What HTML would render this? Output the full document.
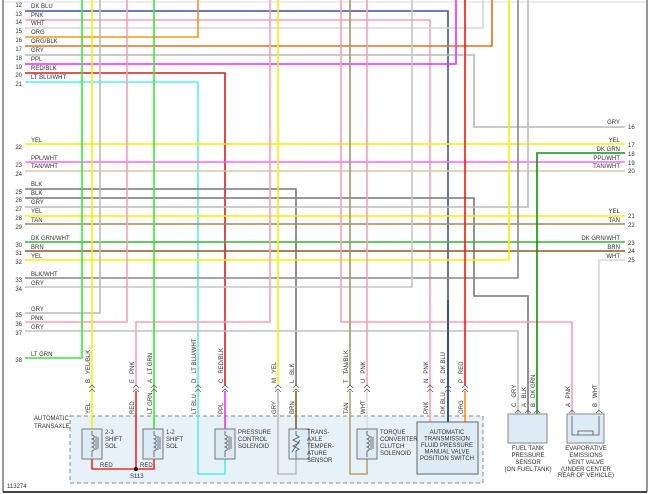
<!DOCTYPE html>
<html><head><meta charset="utf-8"><style>
html,body{margin:0;padding:0;background:#fff;}
svg{display:block;font-family:"Liberation Sans",sans-serif;}
text{font-size:6px;fill:#333;white-space:pre;}
</style></head><body>
<svg width="650" height="494" viewBox="0 0 650 494" xmlns="http://www.w3.org/2000/svg">
<rect x="0" y="0" width="650" height="494" fill="#fff"/>
<line x1="3" y1="2" x2="647" y2="2" stroke="#ddd" stroke-width="1"/>
<line x1="3" y1="0" x2="3" y2="492" stroke="#555" stroke-width="1.2"/>
<line x1="647" y1="0" x2="647" y2="492" stroke="#555" stroke-width="1.2"/>
<line x1="3" y1="492" x2="647" y2="492" stroke="#444" stroke-width="2"/>
<rect x="70" y="416" width="413" height="67" fill="#e7f1f8" stroke="#888" stroke-width="1" stroke-dasharray="4,3"/>
<g fill="none" stroke-width="1.6">
<path d="M25,11H448V422" stroke="#3a52ac"/>
<path d="M25,20H430V422" stroke="#ff9db5"/>
<path d="M25,28H483V0" stroke="#d6d6d6"/>
<path d="M25,37H198V0" stroke="#f7941d"/>
<path d="M25,46H492V0" stroke="#e0701e"/>
<path d="M25,55H474V127H625" stroke="#b8b8b8"/>
<path d="M25,64H456V0" stroke="#ff22ff"/>
<path d="M25,73H225V386" stroke="#cc2222"/>
<path d="M225,391V429" stroke="#ee33ee"/>
<path d="M25,82H198V474H225V459" stroke="#55eef0"/>
<path d="M25,144H625" stroke="#f6f000"/>
<path d="M25,162H625" stroke="#ff66ff"/>
<path d="M25,171H625" stroke="#d6c8a6"/>
<path d="M25,189H296V386" stroke="#777"/>
<path d="M296,391V429" stroke="#8a5a18"/>
<path d="M25,198H474V296H528V414" stroke="#777"/>
<path d="M25,207H528V0" stroke="#bbb"/>
<path d="M25,216H625" stroke="#f6f000"/>
<path d="M25,224H625" stroke="#a48a52"/>
<path d="M25,242H625" stroke="#3cb43c"/>
<path d="M25,251H625" stroke="#8b5a1a"/>
<path d="M25,260H509V0" stroke="#f6f000"/>
<path d="M25,278H518V0" stroke="#888"/>
<path d="M25,287H412V0" stroke="#c6c6c6"/>
<path d="M25,313H100V0" stroke="#bbb"/>
<path d="M25,322H127V0" stroke="#ff9db5"/>
<path d="M270,0V322H136V386" stroke="#ff9db5"/>
<path d="M136,391V469" stroke="#ff2222"/>
<path d="M341,0V322H572V414" stroke="#ff9db5"/>
<path d="M25,331H518V414" stroke="#c0c0c0"/>
<path d="M25,358H82V0" stroke="#33ee33"/>
<path d="M625,153H537V414" stroke="#109010"/>
<path d="M625,260H599V414" stroke="#d8d8d8"/>
<path d="M92,0V429" stroke="#f6f000"/>
<path d="M154,0V429" stroke="#33ee33"/>
<path d="M278,0V386" stroke="#f6f000"/>
<path d="M278,391V474H296V459" stroke="#bbb"/>
<path d="M350,0V386" stroke="#a09a60"/>
<path d="M350,391V474H367V459" stroke="#b8a070"/>
<path d="M367,0V386" stroke="#ff9db5"/>
<path d="M367,391V429" stroke="#ddd"/>
<path d="M465,0V386" stroke="#ff1010"/>
<path d="M465,391V422" stroke="#ff8c1a"/>
<path d="M448,300V422" stroke="#1a3ab0"/>
<path d="M92,459V469H154V459" stroke="#ff2222"/>
</g>
<circle cx="136" cy="469" r="2" fill="#000"/>
<g fill="none" stroke="#666" stroke-width="0.8">
<path d="M89,388l3,-3l3,3M89,392l3,-3l3,3M133,388l3,-3l3,3M133,392l3,-3l3,3M151,388l3,-3l3,3M151,392l3,-3l3,3M195,388l3,-3l3,3M195,392l3,-3l3,3M222,388l3,-3l3,3M222,392l3,-3l3,3M275,388l3,-3l3,3M275,392l3,-3l3,3M293,388l3,-3l3,3M293,392l3,-3l3,3M347,388l3,-3l3,3M347,392l3,-3l3,3M364,388l3,-3l3,3M364,392l3,-3l3,3M427,388l3,-3l3,3M427,392l3,-3l3,3M445,388l3,-3l3,3M445,392l3,-3l3,3M462,388l3,-3l3,3M462,392l3,-3l3,3"/>
<path d="M515,413l3,-3l3,3M525,413l3,-3l3,3M534,413l3,-3l3,3M569,413l3,-3l3,3M596,413l3,-3l3,3"/>
</g>
<g stroke="#777" stroke-width="1" fill="#dcebf5">
<rect x="82" y="429" width="20" height="30"/>
<rect x="143" y="429" width="20" height="30"/>
<rect x="215" y="429" width="20" height="30"/>
<rect x="289" y="429" width="20" height="30"/>
<rect x="357" y="429" width="20" height="30"/>
<rect x="417" y="422" width="61" height="52" stroke="#666"/>
<rect x="508" y="414" width="39" height="29" stroke="#888"/>
<rect x="567" y="414" width="37" height="29" stroke="#888"/>
</g>
<g fill="none" stroke="#555" stroke-width="0.8">
<path d="M92,431v4c3,1 3,3 0,4c3,1 3,3 0,4c3,1 3,3 0,4c3,1 3,3 0,4v6M96,436v14M98,437v12"/>
<path d="M154,431v4c3,1 3,3 0,4c3,1 3,3 0,4c3,1 3,3 0,4c3,1 3,3 0,4v6M158,436v14M160,437v12"/>
<path d="M225,431v4c3,1 3,3 0,4c3,1 3,3 0,4c3,1 3,3 0,4c3,1 3,3 0,4v6M229,436v14M231,437v12"/>
<path d="M296,431v4l3,2l-6,3l6,3l-6,3l6,3l-3,2v8M292,452l8,-12"/>
<path d="M367,431v4c3,1 3,3 0,4c3,1 3,3 0,4c3,1 3,3 0,4c3,1 3,3 0,4v6M371,436v14M373,437v12"/>
<path d="M572,416v19h27v-19M578,435v-4h15v4"/>
</g>
<g>
<text x="31" y="8">DK BLU</text><text x="31" y="17">PNK</text><text x="31" y="25">WHT</text><text x="31" y="34">ORG</text><text x="31" y="43">ORG/BLK</text><text x="31" y="52">GRY</text><text x="31" y="61">PPL</text><text x="31" y="70">RED/BLK</text><text x="31" y="79">LT BLU/WHT</text>
<text x="31" y="142">YEL</text><text x="31" y="160">PPL/WHT</text><text x="31" y="168">TAN/WHT</text>
<text x="31" y="186">BLK</text><text x="31" y="195">BLK</text><text x="31" y="204">GRY</text><text x="31" y="213">YEL</text><text x="31" y="222">TAN</text>
<text x="31" y="240">DK GRN/WHT</text><text x="31" y="249">BRN</text><text x="31" y="258">YEL</text>
<text x="31" y="276">BLK/WHT</text><text x="31" y="285">GRY</text>
<text x="31" y="311">GRY</text><text x="31" y="320">PNK</text><text x="31" y="329">GRY</text>
<text x="31" y="356">LT GRN</text>
</g>
<g text-anchor="end">
<text x="22" y="7">12</text><text x="22" y="16">13</text><text x="22" y="24">14</text><text x="22" y="33">15</text><text x="22" y="42">16</text><text x="22" y="51">17</text><text x="22" y="60">18</text><text x="22" y="69">19</text><text x="22" y="77">20</text><text x="22" y="86">21</text>
<text x="22" y="149">22</text><text x="22" y="167">23</text><text x="22" y="176">24</text>
<text x="22" y="194">25</text><text x="22" y="202">26</text><text x="22" y="211">27</text><text x="22" y="220">28</text><text x="22" y="229">29</text>
<text x="22" y="247">30</text><text x="22" y="255">31</text><text x="22" y="264">32</text>
<text x="22" y="282">33</text><text x="22" y="291">34</text>
<text x="22" y="317">35</text><text x="22" y="326">36</text><text x="22" y="335">37</text>
<text x="22" y="362">38</text>
<text x="620" y="124">GRY</text><text x="620" y="142">YEL</text><text x="620" y="151">DK GRN</text><text x="620" y="160">PPL/WHT</text><text x="620" y="168">TAN/WHT</text>
<text x="620" y="213">YEL</text><text x="620" y="222">TAN</text><text x="620" y="240">DK GRN/WHT</text><text x="620" y="249">BRN</text><text x="620" y="258">WHT</text>
</g>
<g>
<text x="628" y="129">16</text><text x="628" y="147">17</text><text x="628" y="156">18</text><text x="628" y="165">19</text><text x="628" y="173">20</text>
<text x="628" y="218">21</text><text x="628" y="227">22</text><text x="628" y="245">23</text><text x="628" y="253">24</text><text x="628" y="262">25</text>
</g>
<g>
<text transform="translate(90,383) rotate(-90)">B   YEL/BLK</text>
<text transform="translate(134,383) rotate(-90)">E   PNK</text>
<text transform="translate(152,383) rotate(-90)">A   LT GRN</text>
<text transform="translate(196,383) rotate(-90)">D   LT BLU/WHT</text>
<text transform="translate(223,383) rotate(-90)">C   RED/BLK</text>
<text transform="translate(276,383) rotate(-90)">M   YEL</text>
<text transform="translate(294,383) rotate(-90)">L   BLK</text>
<text transform="translate(348,383) rotate(-90)">T   TAN/BLK</text>
<text transform="translate(365,383) rotate(-90)">U   PNK</text>
<text transform="translate(428,383) rotate(-90)">N   PNK</text>
<text transform="translate(445,383) rotate(-90)">R   DK BLU</text>
<text transform="translate(463,383) rotate(-90)">P   RED</text>
<text transform="translate(90,414) rotate(-90)">YEL</text>
<text transform="translate(134,414) rotate(-90)">RED</text>
<text transform="translate(152,414) rotate(-90)">LT GRN</text>
<text transform="translate(196,414) rotate(-90)">LT BLU</text>
<text transform="translate(223,414) rotate(-90)">PPL</text>
<text transform="translate(276,414) rotate(-90)">GRY</text>
<text transform="translate(294,414) rotate(-90)">BRN</text>
<text transform="translate(348,414) rotate(-90)">TAN</text>
<text transform="translate(365,414) rotate(-90)">WHT</text>
<text transform="translate(428,414) rotate(-90)">PNK</text>
<text transform="translate(445,414) rotate(-90)">DK BLU</text>
<text transform="translate(463,414) rotate(-90)">ORG</text>
<text transform="translate(516,407) rotate(-90)">C   GRY</text>
<text transform="translate(526,407) rotate(-90)">A   BLK</text>
<text transform="translate(535,407) rotate(-90)">B   DK GRN</text>
<text transform="translate(570,407) rotate(-90)">A   PNK</text>
<text transform="translate(597,407) rotate(-90)">B   WHT</text>
</g>
<g>
<text x="34" y="420">AUTOMATIC</text><text x="34" y="428">TRANSAXLE</text>
<text x="105" y="434">2-3</text><text x="105" y="441">SHIFT</text><text x="105" y="448">SOL</text>
<text x="166" y="434">1-2</text><text x="166" y="441">SHIFT</text><text x="166" y="448">SOL</text>
<text x="238" y="434">PRESSURE</text><text x="238" y="441">CONTROL</text><text x="238" y="448">SOLENOID</text>
<text x="307" y="434">TRANS-</text><text x="307" y="441">AXLE</text><text x="307" y="448">TEMPER-</text><text x="307" y="455">ATURE</text><text x="307" y="462">SENSOR</text>
<text x="380" y="434">TORQUE</text><text x="380" y="441">CONVERTER</text><text x="380" y="448">CLUTCH</text><text x="380" y="455">SOLENOID</text>
<text x="100" y="467">RED</text><text x="140" y="467">RED</text><text x="130" y="478">S113</text>
<text x="7" y="488">113274</text>
</g>
<g text-anchor="middle">
<text x="447" y="434">AUTOMATIC</text><text x="447" y="440.5">TRANSMISSION</text><text x="447" y="447">FLUID PRESSURE</text><text x="447" y="453.5">MANUAL VALVE</text><text x="447" y="460">POSITION SWITCH</text>
<text x="528" y="450">FUEL TANK</text><text x="528" y="457">PRESSURE</text><text x="528" y="464">SENSOR</text><text x="528" y="471">(ON FUEL TANK)</text>
<text x="586" y="450">EVAPORATIVE</text><text x="586" y="457">EMISSIONS</text><text x="586" y="464">VENT VALVE</text><text x="586" y="471">(UNDER CENTER</text><text x="586" y="477">REAR OF VEHICLE)</text>
</g>
</svg>
</body></html>
